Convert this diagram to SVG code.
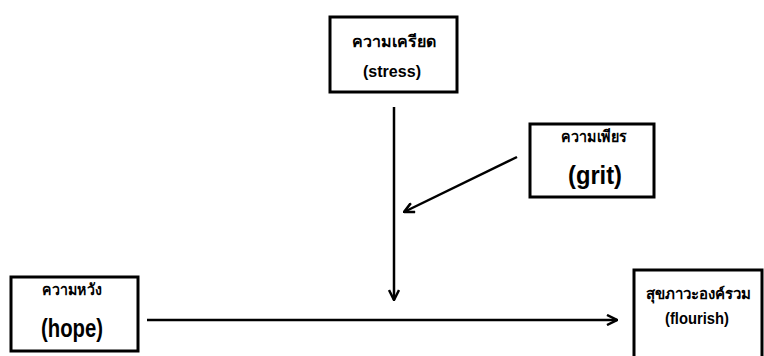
<svg xmlns="http://www.w3.org/2000/svg" width="764" height="356" viewBox="0 0 764 356">
  <style>
    .box { fill: #ffffff; stroke: #000000; stroke-width: 3; }
    .th { font-family: "Noto Sans", "DejaVu Sans", sans-serif; font-weight: bold; font-size: 16px; text-anchor: middle; fill: #000; }
    .en { font-family: "Liberation Sans", Arial, sans-serif; font-weight: bold; font-size: 16px; text-anchor: middle; fill: #000; }
    .en-lg { font-family: "Liberation Sans", Arial, sans-serif; font-weight: bold; font-size: 25px; text-anchor: middle; fill: #000; }
    .link { stroke: #000000; stroke-width: 2.5; fill: none; marker-end: url(#arrow); }
  </style>
  <defs>
    <marker id="arrow" viewBox="0 0 12 12" refX="11" refY="6" markerWidth="12" markerHeight="12" markerUnits="userSpaceOnUse" orient="auto">
      <path d="M1,1 L11,6 L1,11" fill="none" stroke="#000" stroke-width="2.5"/>
    </marker>
  </defs>
  <rect width="764" height="356" fill="#ffffff"/>

  <!-- arrows between the four variables -->
  <g id="connectors">
    <line class="link" x1="394" y1="107" x2="394" y2="300"/>
    <line class="link" x1="517" y1="157" x2="404" y2="212"/>
    <line class="link" x1="147" y1="320" x2="617" y2="320"/>
  </g>

  <g id="stress">
    <rect class="box" x="330" y="17" width="127" height="75"/>
    <text class="th" x="394" y="47">ความเครียด</text>
    <text class="en" x="392" y="77" textLength="58" lengthAdjust="spacingAndGlyphs">(stress)</text>
  </g>

  <g id="grit">
    <rect class="box" x="530" y="124" width="124" height="73"/>
    <text class="th" x="594" y="142" textLength="66" lengthAdjust="spacingAndGlyphs">ความเพียร</text>
    <text class="en-lg" x="595" y="184" textLength="54" lengthAdjust="spacingAndGlyphs">(grit)</text>
  </g>

  <g id="hope">
    <rect class="box" x="11" y="277" width="127" height="74"/>
    <text class="th" x="72" y="295" textLength="60" lengthAdjust="spacingAndGlyphs">ความหวัง</text>
    <text class="en-lg" x="72" y="337" textLength="62" lengthAdjust="spacingAndGlyphs">(hope)</text>
  </g>

  <g id="flourish">
    <rect class="box" x="634" y="270" width="128" height="92"/>
    <text class="th" x="698" y="299" style="font-size:15px">สุขภาวะองค์รวม</text>
    <text class="en" x="697" y="324" textLength="64" lengthAdjust="spacingAndGlyphs">(flourish)</text>
  </g>
</svg>
